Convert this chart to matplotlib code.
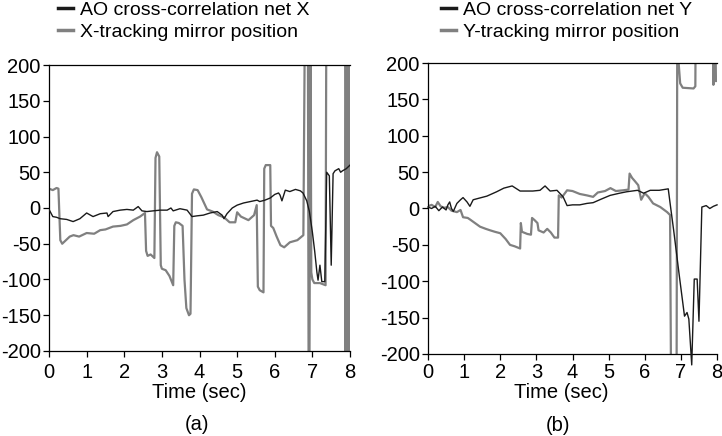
import matplotlib
matplotlib.use("Agg")
import matplotlib.pyplot as plt

plt.rcParams['font.family'] = ['Liberation Sans', 'DejaVu Sans']
plt.rcParams['axes.unicode_minus'] = False

# -------------------------------
# Data
# -------------------------------
# (a) AO cross-correlation net X
ax_t = [0, 0.1, 0.2, 0.3, 0.47, 0.64, 0.82, 1.0, 1.17, 1.36, 1.54, 1.57, 1.7, 1.89, 2.07,
        2.24, 2.37, 2.47, 2.6, 2.77, 2.95, 3.14, 3.24, 3.3, 3.48, 3.67, 3.8, 3.93, 4.1, 4.28,
        4.47, 4.6, 4.65, 4.73, 4.87, 5.0, 5.17, 5.35, 5.53, 5.6, 5.74, 5.88, 6.0, 6.1, 6.14,
        6.19, 6.28, 6.4, 6.55, 6.68, 6.75, 6.85, 6.92, 7.0, 7.06, 7.12, 7.15, 7.2, 7.25, 7.33,
        7.38, 7.45, 7.5, 7.55, 7.6, 7.7, 7.75, 7.8, 7.9, 8.0]
ax_v = [-2, -12, -13, -15, -16, -19, -15, -7, -12, -8, -7, -12, -5, -3, -2,
        -3, 2, -4, -5, -4, -3, -3, 0, -4, -1, -3, -12, -11, -10, -7,
        -5, -10, -15, -8, 0, 4, 7, 9, 11, 9, 11, 14, 19, 21, 18,
        10, 25, 23, 26, 24, 21, 10, -5, -34, -60, -90, -101, -80, -103, -103,
        50, 45, -80, 48, 52, 55, 50, 52, 55, 60]

# (a) X-tracking mirror position
mx_t = [0, 0.1, 0.2, 0.25, 0.3, 0.35, 0.45, 0.55, 0.65, 0.8, 1.0, 1.2, 1.36, 1.5, 1.7,
        1.9, 2.07, 2.24, 2.42, 2.55, 2.58, 2.62, 2.7, 2.8, 2.83, 2.87, 2.93, 2.97, 3.0, 3.1,
        3.2, 3.3, 3.33, 3.37, 3.45, 3.55, 3.6, 3.65, 3.72, 3.76, 3.8, 3.85, 3.95, 4.05, 4.2,
        4.35, 4.5, 4.65, 4.8, 4.95, 5.0, 5.1, 5.3, 5.45, 5.52, 5.55, 5.6, 5.7, 5.72, 5.76,
        5.88, 5.9, 5.96, 6.05, 6.15, 6.25, 6.4, 6.6, 6.76, 6.8, 6.88, 6.9, 6.92, 6.95, 6.97,
        7.0, 7.05, 7.2, 7.35, 7.37, 7.87, 7.88, 7.9, 7.92, 7.95, 7.97, 8.0]
mx_v = [27, 25, 28, 27, -45, -50, -45, -40, -38, -40, -35, -36, -31, -30, -26,
        -25, -23, -17, -12, -7, -60, -67, -65, -70, 70, 78, 72, -80, -85, -87,
        -95, -108, -25, -20, -21, -25, -100, -140, -150, -148, 20, 26, 25, 15, -2,
        -5, -10, -13, -20, -20, -6, -12, -17, -10, 4, -110, -115, -118, 55, 60,
        60, -25, -28, -40, -52, -55, -48, -45, -38, 260, 260, -260, -260, 260, -90,
        -100, -105, -105, -108, 260, 260, -260, 260, -260, 260, -260, 260]

# (b) AO cross-correlation net Y
ay_t = [0, 0.1, 0.2, 0.3, 0.4, 0.5, 0.55, 0.6, 0.65, 0.7, 0.8, 0.9, 0.97, 1.08, 1.16,
        1.25, 1.4, 1.63, 1.9, 2.1, 2.33, 2.55, 2.9, 3.1, 3.24, 3.38, 3.57, 3.74, 3.85, 4.0,
        4.2, 4.4, 4.57, 4.8, 5.04, 5.3, 5.5, 5.8, 5.97, 6.15, 6.4, 6.65, 6.72, 6.8, 6.95,
        7.1, 7.17, 7.22, 7.3, 7.37, 7.45, 7.5, 7.58, 7.7, 7.8, 7.9, 8.0]
ay_v = [2, 0, 3, -3, 2, -2, 5, 9, 0, -4, 7, 12, 15, 9, 3,
        12, 14, 17, 23, 28, 31, 24, 24, 25, 31, 24, 25, 16, 4, 5,
        5, 7, 8, 13, 18, 21, 23, 25, 21, 25, 25, 27, 0, -30, -90,
        -148, -143, -152, -215, -97, -97, -155, 2, 4, 0, 3, 5]

# (b) Y-tracking mirror position
my_t = [0, 0.1, 0.2, 0.27, 0.35, 0.45, 0.55, 0.65, 0.8, 0.9, 0.97, 1.1, 1.16, 1.3, 1.44,
        1.6, 1.72, 1.85, 2.0, 2.15, 2.27, 2.4, 2.55, 2.57, 2.6, 2.75, 2.85, 2.88, 2.95, 3.03,
        3.06, 3.2, 3.3, 3.4, 3.5, 3.6, 3.62, 3.7, 3.85, 4.0, 4.2, 4.4, 4.57, 4.7, 4.9,
        5.05, 5.2, 5.4, 5.55, 5.58, 5.65, 5.72, 5.82, 5.9, 6.0, 6.1, 6.23, 6.43, 6.62, 6.7,
        6.73, 6.88, 6.9, 6.93, 6.98, 7.05, 7.35, 7.4, 7.41, 7.88, 7.9, 7.92, 7.95, 7.97, 8.0]
my_v = [3, 5, 2, 9, 3, 1, 2, -3, -5, -2, -12, -13, -15, -20, -25,
        -28, -30, -32, -34, -42, -50, -52, -55, -20, -32, -35, -36, -13, -16, -20,
        -30, -33, -28, -33, -40, -40, 18, 15, 25, 24, 20, 18, 16, 22, 24,
        28, 24, 25, 26, 48, 42, 38, 32, 12, 21, 16, 7, 2, -5, -9,
        -260, -260, 260, 205, 172, 166, 165, 168, 260, 260, 170, 260, 260, 175, 180]

legend_a = ["AO cross-correlation net X", "X-tracking mirror position"]
legend_b = ["AO cross-correlation net Y", "Y-tracking mirror position"]
y_ticks = [-200, -150, -100, -50, 0, 50, 100, 150, 200]
x_ticks = [0, 1, 2, 3, 4, 5, 6, 7, 8]

BLACK = "#1a1a1a"
GRAY = "#808080"

# -------------------------------
# Figure
# -------------------------------
fig = plt.figure(figsize=(7.22, 4.36), dpi=100)
ax1 = fig.add_axes([0.0679, 0.1950, 0.4169, 0.6559])
ax2 = fig.add_axes([0.5928, 0.1881, 0.4003, 0.6674])

# axes, black, gray, legend, tag, legend x (px), label x, label y, tag y, x pad, black unclipped
panels = [
    (ax1, ax_t, ax_v, mx_t, mx_v, legend_a, "(a)", 58, 0.50, -0.112, -0.225, 4.5, False),
    (ax2, ay_t, ay_v, my_t, my_v, legend_b, "(b)", 441, 0.46, -0.100, -0.212, 2.5, True),
]

for ax, bt, bv, gt, gv, labels, tag, leg_x, lab_x, lab_y, tag_y, xpad, unclip in panels:
    l1, = ax.plot(bt, bv, color=BLACK, lw=1.0, label=labels[0], zorder=3,
                  clip_on=not unclip)
    l2, = ax.plot(gt, gv, color=GRAY, lw=1.6, label=labels[1], zorder=2)
    ax.set_xlim(0, 8)
    ax.set_ylim(-200, 200)
    ax.set_xticks(x_ticks)
    ax.set_yticks(y_ticks)
    ax.spines["right"].set_visible(False)
    for s in ["left", "bottom", "top"]:
        ax.spines[s].set_linewidth(0.9)
    ax.tick_params(direction="out", length=4, width=0.9, labelsize=14.5, pad=2)
    ax.tick_params(axis="x", pad=xpad)
    ax.set_xlabel("Time (sec)", fontsize=14.5)
    ax.xaxis.set_label_coords(lab_x, lab_y)
    ax.xaxis.label.set_va("top")
    ax.text(lab_x - 0.01, tag_y, tag, transform=ax.transAxes, ha="center", va="top",
            fontsize=14.5)

    leg = ax.legend(handles=[l1, l2], loc="upper left",
                    bbox_to_anchor=(leg_x / 722, 1 - 1 / 436),
                    bbox_transform=fig.transFigure, frameon=False, fontsize=14,
                    handlelength=0.75, handletextpad=0.4, labelspacing=0.22,
                    borderpad=0, borderaxespad=0)
    for line in leg.get_lines():
        line.set_linewidth(2.5)

plt.savefig("out.png", dpi=100)
